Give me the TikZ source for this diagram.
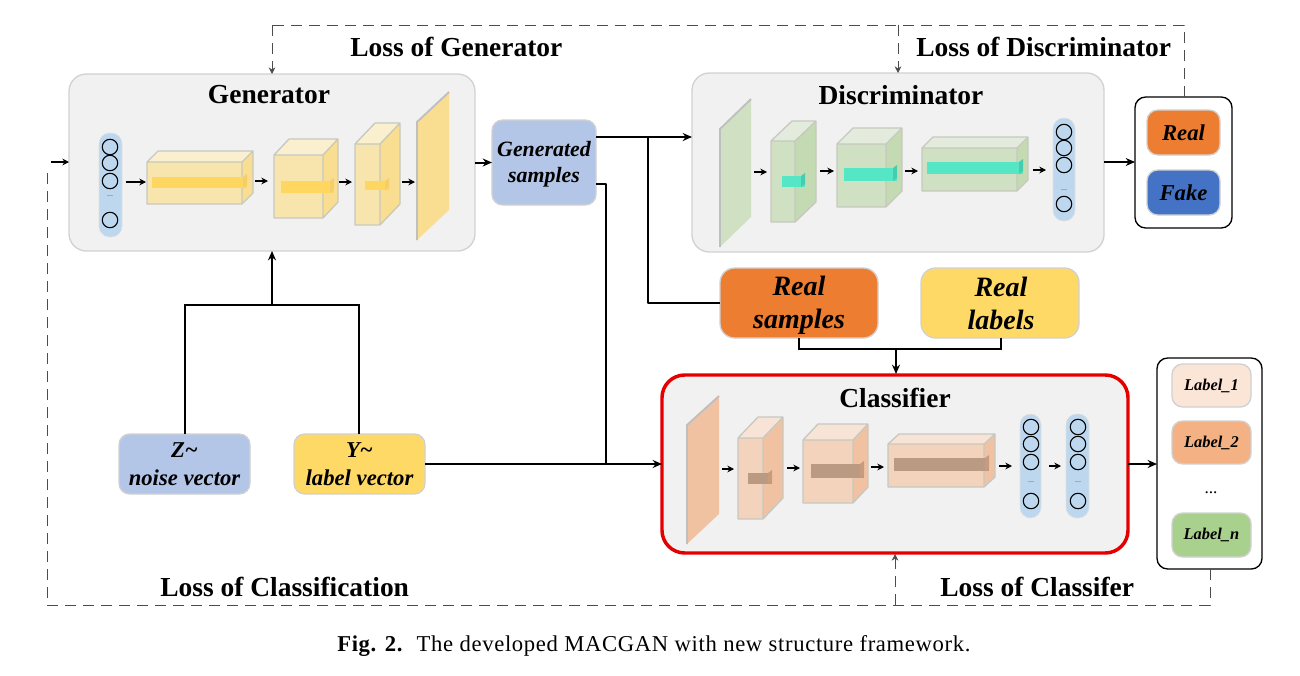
\documentclass[tikz,border=0pt]{standalone}
\usepackage{fontspec}
\setmainfont{Liberation Serif}
\newfontfamily\capfont[LetterSpace=2.9]{Liberation Serif}
\usetikzlibrary{arrows.meta,calc}
\definecolor{panelfill}{HTML}{F1F1F1}
\definecolor{panelline}{HTML}{D2D2D2}
\definecolor{blueBox}{HTML}{B4C6E7}
\definecolor{yellowBox}{HTML}{FFD966}
\definecolor{orangeBox}{HTML}{ED7D31}
\definecolor{fakeBlue}{HTML}{4472C4}
\definecolor{pillblue}{HTML}{BDD7EE}
\definecolor{lab1}{HTML}{FBE5D6}
\definecolor{lab2}{HTML}{F4B183}
\definecolor{labn}{HTML}{A9D18E}
\definecolor{edgegray}{HTML}{C8C8C0}
\newcommand{\titlefont}{\fontsize{20.6}{22}\selectfont\bfseries}
\newcommand{\boxfont}{\fontsize{16.4}{19.5}\selectfont\bfseries\itshape}
\newcommand{\inputfont}{\fontsize{17}{21}\selectfont\bfseries\itshape}
\newcommand{\bigfont}{\fontsize{21}{25}\selectfont\bfseries\itshape}
\newcommand{\outfont}{\fontsize{17}{19}\selectfont\bfseries\itshape}
\newcommand{\labfont}{\fontsize{12.3}{14}\selectfont\bfseries\itshape}
\tikzset{
  x=0.75pt,y=-0.75pt,
  conn/.style={line width=1.5pt,-{Stealth[length=7pt,width=6pt]}},
  plain/.style={line width=1.5pt},
  smallarrow/.style={line width=0.9pt,-{Stealth[length=5pt,width=5pt]}},
  lossline/.style={line width=0.7pt,draw=black!70,dash pattern=on 8.5pt off 5pt},
  losshead/.style={line width=0.7pt,draw=black!70,dash pattern=on 8.5pt off 5pt,-{Stealth[length=5pt,width=5pt]}},
  panel/.style={draw=panelline,fill=panelfill,line width=1pt,rounded corners=13pt},
  softbox/.style={draw=black!18,line width=1pt,rounded corners=8pt,align=center,font=\boxfont},
  holder/.style={draw=black,fill=white,line width=1pt,rounded corners=8pt},
  title/.style={font=\titlefont,inner sep=0pt},
  bigtext/.style={font=\bigfont,align=center,inner sep=0pt},
  gentext/.style={font=\boxfont,align=center,inner sep=0pt},
  neuron/.style={draw=black,line width=0.8pt,circle,minimum size=11.6pt,inner sep=0pt},
}
% \rbox[style]{name}{x1}{y1}{x2}{y2}{text}
\newcommand{\rbox}[7][]{%
  \node[#1,inner sep=0pt,outer sep=0pt,minimum width={(#5-#3)*0.75pt},minimum height={(#6-#4)*0.75pt}]
    (#2) at ({(#3+#5)/2},{(#4+#6)/2}) {#7};}
% \cuboid{x1}{y1}{x2}{y2}{dx}{dy}{front}{top}{side}
\newcommand{\cuboid}[9]{%
  \fill[#8] (#1,#2) -- ({#1+#5},{#2-#6}) -- ({#3+#5},{#2-#6}) -- (#3,#2) -- cycle;
  \fill[#9] (#3,#2) -- ({#3+#5},{#2-#6}) -- ({#3+#5},{#4-#6}) -- (#3,#4) -- cycle;
  \fill[#7] (#1,#2) rectangle (#3,#4);
  \draw[edgegray,line width=1pt,line join=round] (#1,#2) rectangle (#3,#4)
    (#1,#2) -- ({#1+#5},{#2-#6}) -- ({#3+#5},{#2-#6}) -- ({#3+#5},{#4-#6}) -- (#3,#4)
    (#3,#2) -- ({#3+#5},{#2-#6});}
\newcommand{\innerbar}[6]{%
  \fill[#5] (#1,#2) rectangle (#3,#4);
  \fill[#6] ({#3-4},#2) -- (#3,{#2-3}) -- (#3,{#4-3}) -- ({#3-4},#4) -- cycle;}
% \plane{xl}{xr}{yltop}{ylbot}{yrtop}{yrbot}{color}
\newcommand{\plane}[7]{%
  \fill[#7] (#1,#3) -- (#2,#5) -- (#2,#6) -- (#1,#4) -- cycle;
  \draw[black!25,line width=1.4pt] (#1,#4) -- (#1,#3) -- (#2,#5);}
% \pill{name}{x1}{y1}{x2}{y2}{cx}{dotsy}{list}
\newcommand{\pill}[8]{%
  \fill[pillblue,draw=black!12,rounded corners=8pt] (#2,#3) rectangle (#4,#5);
  \foreach \cy [count=\ci] in {#8}{\node[neuron] (#1n\ci) at (#6,\cy) {};}
  \node[inner sep=0pt,font=\fontsize{6}{6}\selectfont,text=black!70] (#1dots) at (#6,#7) {...};}
\newcommand{\flow}[3]{%
  \coordinate (fa) at (#1,#3); \coordinate (fb) at (#2,#3);
  \draw[smallarrow] (fa) -- (fb);}
\begin{document}
\begin{tikzpicture}
\useasboundingbox (0,0) rectangle (1300,675);
\fill[white] (0,0) rectangle (1300,675);

% panels
\rbox[panel]{gen}{69}{74}{475}{251}{}
\rbox[panel]{disc}{692}{73}{1104}{252}{}
\rbox[panel,draw=red!90!black,line width=2.6pt,rounded corners=17pt]{clf}{662}{375}{1128}{553}{}
\node[title] (gent) at (269,95) {Generator};
\node[title] (disct) at (901,95) {Discriminator};
\node[title] (clft) at (895,398) {Classifier};

% generator content
\definecolor{gF}{HTML}{F8E5AE}\definecolor{gT}{HTML}{FAF0D0}\definecolor{gS}{HTML}{F9DE92}
\definecolor{gB}{HTML}{FFD65F}\definecolor{gE}{HTML}{F5CE6A}
\pill{pa}{99}{133}{122}{237}{110}{196}{147,163,181,220}
\flow{126}{146}{182}
\cuboid{147}{162}{242}{204}{11}{11}{gF}{gT}{gS}
\innerbar{152}{177}{247}{188}{gB}{gE}
\flow{255}{268}{181}
\cuboid{274}{155}{323}{218}{15}{16}{gF}{gT}{gS}
\innerbar{281}{181}{334}{193}{gB}{gE}
\flow{339}{352}{182}
\cuboid{355}{144}{380}{225}{20}{21}{gF}{gT}{gS}
\innerbar{365}{181}{389}{190}{gB}{gE}
\flow{402}{415}{182}
\plane{417}{449}{122}{240}{92}{210}{gS}

% discriminator content
\definecolor{dF}{HTML}{D0E0C3}\definecolor{dT}{HTML}{E3EBDC}\definecolor{dS}{HTML}{C4DAB2}
\definecolor{dB}{HTML}{55E6C5}\definecolor{dE}{HTML}{45CDB0}
\plane{720}{751}{129}{247}{99}{217}{dF}
\flow{754}{767}{172}
\cuboid{771}{141}{795}{222}{21}{20}{dF}{dT}{dS}
\innerbar{782}{176}{805}{187}{dB}{dE}
\flow{820}{834}{171}
\cuboid{837}{144}{886}{207}{16}{16}{dF}{dT}{dS}
\innerbar{844}{168}{897}{181}{dB}{dE}
\flow{905}{918}{171}
\cuboid{922}{148}{1017}{191}{11}{11}{dF}{dT}{dS}
\innerbar{927}{162}{1023}{174}{dB}{dE}
\flow{1033}{1046}{170}
\pill{pb}{1053}{118}{1075}{221}{1064}{190}{132,148,165,204}

% classifier content
\definecolor{cF}{HTML}{F3D3BC}\definecolor{cT}{HTML}{F8E4D6}\definecolor{cS}{HTML}{F1C2A2}
\definecolor{cB}{HTML}{BA9A82}\definecolor{cE}{HTML}{C79C7E}
\plane{687}{719}{425}{544}{396}{514}{cS}
\flow{722}{734}{469}
\cuboid{738}{438}{763}{519}{20}{21}{cF}{cT}{cS}
\innerbar{748}{473}{772}{484}{cB}{cE}
\flow{787}{800}{468}
\cuboid{803}{440}{853}{503}{15}{16}{cF}{cT}{cS}
\innerbar{811}{464}{864}{478}{cB}{cE}
\flow{871}{884}{467}
\cuboid{888}{444}{984}{487}{11}{10}{cF}{cT}{cS}
\innerbar{894}{458}{989}{471}{cB}{cE}
\flow{999}{1012}{466}
\pill{pc}{1020}{414}{1041}{518}{1031}{482}{427,444,462,501}
\flow{1049}{1061}{466}
\pill{pd}{1066}{414}{1089}{518}{1078}{482}{427,444,462,501}

% input and sample boxes
\rbox[softbox,fill=blueBox]{gs}{492}{120}{596}{205}{}
\node[gentext] (gst) at (544,164.5) {Generated\\samples};
\rbox[softbox,fill=blueBox,font=\inputfont]{zv}{119}{434}{250}{494}{Z\textasciitilde\\noise vector}
\rbox[softbox,fill=yellowBox,font=\inputfont]{yv}{294}{434}{425}{494}{Y\textasciitilde\\label vector}
\rbox[softbox,fill=orangeBox,rounded corners=11pt]{rs}{720}{268}{878}{338}{}
\rbox[softbox,fill=yellowBox,rounded corners=11pt]{rl}{921}{268}{1079}{338}{}
\node[bigtext] (rst) at (799,305) {Real\\samples};
\node[bigtext] (rlt) at (1001,303.5) {Real\\labels};

% outcome holders
\rbox[holder]{out}{1135}{97}{1232}{228}{}
\rbox[softbox,fill=orangeBox,font=\outfont]{real}{1147}{110}{1220}{155}{Real}
\rbox[softbox,fill=fakeBlue,font=\outfont]{fake}{1147}{170}{1220}{215}{Fake}
\rbox[holder]{labs}{1157}{358}{1262}{569}{}
\rbox[softbox,fill=lab1,font=\labfont]{l1}{1172}{364}{1251}{407}{Label\_1}
\rbox[softbox,fill=lab2,font=\labfont]{l2}{1172}{421}{1251}{464}{Label\_2}
\node[inner sep=0pt,font=\fontsize{13}{13}\selectfont] (ldots) at (1211,493) {...};
\rbox[softbox,fill=labn,font=\labfont]{ln}{1172}{513}{1251}{557}{Label\_n}

% junctions
\coordinate (jgs) at (648,137);
\coordinate (gsa) at (596,137);
\coordinate (gsb) at (596,184);
\coordinate (jy) at (606,464);
\coordinate (din) at (692,137);
\coordinate (rsin) at (720,303);
\coordinate (jn) at (272,305);
\coordinate (gb) at (272,251);
\coordinate (zt) at (185,434);
\coordinate (yt) at (359,434);
\coordinate (rsb) at (799,338);
\coordinate (rlb) at (1001,338);
\coordinate (jr) at (896,349);
\coordinate (ct) at (896,374);

% solid connectors
\draw[plain] (zt) |- (jn);
\draw[plain] (yt) |- (jn);
\draw[conn] (jn) -- (gb);
\draw[conn] (gen.east) -- (gs.west);
\draw[conn] (gsa) -- (din);
\draw[plain,line join=round] (jgs) |- (rsin);
\draw[plain,line join=round] (gsb) -| (jy);
\draw[conn] (yv.east) -- (clf.west);
\draw[plain] (rsb) |- (jr);
\draw[plain] (rlb) |- (jr);
\draw[conn] (jr) -- (ct);
\coordinate (outin) at (1135,162);
\coordinate (discout) at (1104,162);
\draw[conn,line width=1pt] (discout) -- (outin);
\coordinate (labin) at (1157,464);
\coordinate (clfout) at (1128,464);
\draw[conn] (clfout) -- (labin);

% dashed loss paths
\coordinate (tg) at (272,25);
\coordinate (gt) at (272,74);
\coordinate (td) at (898,25);
\coordinate (dt) at (898,73);
\coordinate (to) at (1184,25);
\coordinate (ot) at (1184,97);
\coordinate (bl) at (47,605);
\coordinate (lt) at (47,167);
\coordinate (la) at (51,162);
\coordinate (ga) at (69,162);
\coordinate (bc) at (895,605);
\coordinate (cb) at (895,554);
\coordinate (br) at (1210,605);
\coordinate (lb) at (1210,569);
\draw[lossline] (ot) -- (to) -- (tg);
\draw[losshead] (tg) -- (gt);
\draw[losshead] (td) -- (dt);
\draw[lossline] (lb) -- (br) -- (bl) -- (lt);
\draw[losshead] (bc) -- (cb);
\draw[smallarrow] (la) -- (ga);

% loss labels
\node[title,anchor=west] (lg) at (350,47) {Loss of Generator};
\node[title,anchor=west] (ld) at (916,47) {Loss of Discriminator};
\node[title,anchor=west] (lc) at (160,587) {Loss of Classification};
\node[title,anchor=west] (lf) at (940,587) {Loss of Classifer};

% caption
\node[inner sep=0pt,anchor=west,font=\fontsize{17}{19}\selectfont\capfont] (cap) at (337,646) {\textbf{Fig. 2.}\hspace{0.6em}The developed MACGAN with new structure framework.};
\end{tikzpicture}
\end{document}
